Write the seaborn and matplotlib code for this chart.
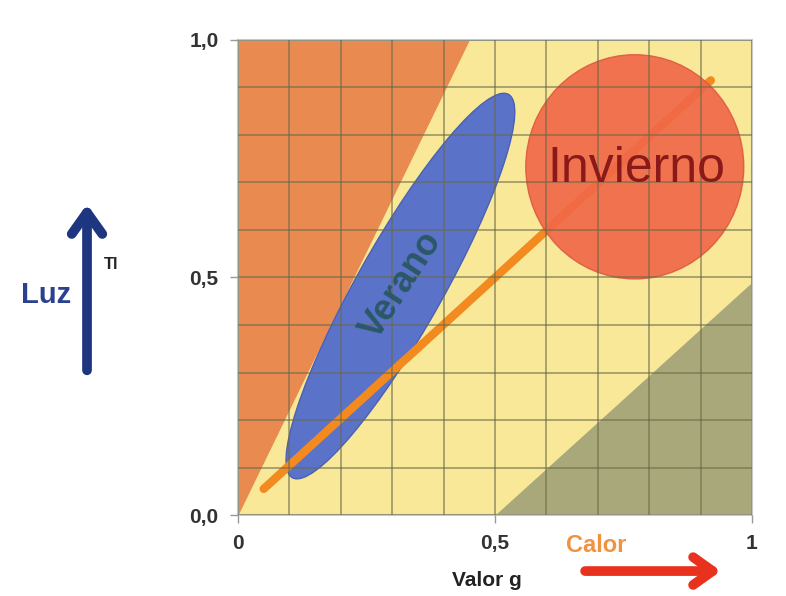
import numpy as np
import matplotlib
matplotlib.use("Agg")
import matplotlib.pyplot as plt
from matplotlib.patches import Ellipse, FancyArrowPatch
import seaborn as sns

# --- data ---
tick_vals = [0, 0.5, 1]
x_tick_labels = ['0', '0,5', '1']
y_tick_labels = ['0,0', '0,5', '1,0']
grid_vals = np.arange(0, 1.01, 0.1)

# zona de luz (naranja, arriba a la izquierda)
zona_luz_y = [0, 1]
zona_luz_x = [0, 0.45]
# zona de calor (gris, abajo a la derecha)
zona_calor_x = [0.5, 1]
zona_calor_y = [0, 0.49]

# linea de tendencia
linea_g = [0.05, 0.92]
linea_tl = [0.055, 0.915]

# elipse Verano
verano_centro = (0.316, 0.482)
verano_largo = 0.91
verano_ancho = 0.17
verano_angulo = 62.6

# circulo Invierno
invierno_centro = (0.772, 0.733)
invierno_ancho = 0.424
invierno_alto = 0.472

# colores
c_fondo = '#f8e898'
c_luz = '#e98a50'
c_calor = '#a9a87a'
c_verano = '#5a72c8'
c_invierno = '#f06848'
c_linea = '#f28a20'

sns.set_theme(style="white")
plt.rcParams['font.family'] = ['Liberation Sans', 'DejaVu Sans']

fig = plt.figure(figsize=(7.86, 5.96), dpi=100)
ax = fig.add_axes([0.3028, 0.1359, 0.6539, 0.797])
ax.set_facecolor(c_fondo)

# regiones
ax.fill_betweenx(zona_luz_y, 0, zona_luz_x, color=c_luz, lw=0, zorder=1)
ax.fill_between(zona_calor_x, 0, zona_calor_y, color=c_calor, lw=0, zorder=1)

# Verano
ax.add_patch(Ellipse(verano_centro, verano_largo, verano_ancho, angle=verano_angulo,
                     facecolor=c_verano, edgecolor='#4a60b4', lw=1, zorder=1.5))

# linea
sns.lineplot(x=linea_g, y=linea_tl, ax=ax, color=c_linea, linewidth=6,
             solid_capstyle='round', legend=False, zorder=2)

# Invierno
ax.add_patch(Ellipse(invierno_centro, invierno_ancho, invierno_alto,
                     facecolor=c_invierno, edgecolor='#e05a40', lw=1, alpha=0.92, zorder=2.2))

ax.text(0.318, 0.484, 'Verano', rotation=57, fontsize=26, fontweight='bold',
        color='#2a5868', ha='center', va='center', rotation_mode='anchor', zorder=3)
ax.text(0.776, 0.728, 'Invierno', fontsize=36, color='#8a1a1a',
        ha='center', va='center', zorder=3)

# ejes y rejilla
ax.set_xlim(0, 1)
ax.set_ylim(0, 1)
ax.set_xticks(tick_vals)
ax.set_xticklabels(x_tick_labels)
ax.set_yticks(tick_vals)
ax.set_yticklabels(y_tick_labels)
ax.set_xticks(grid_vals, minor=True)
ax.set_yticks(grid_vals, minor=True)
ax.set_axisbelow(False)
ax.grid(True, which='both', color='#6a6a4a', alpha=0.6, lw=1.3)
ax.tick_params(which='major', direction='out', length=6, width=1, color='#999999',
               labelsize=15, labelcolor='#333333', pad=8, bottom=True, left=True)
ax.tick_params(which='minor', length=0)
for lab in ax.get_xticklabels() + ax.get_yticklabels():
    lab.set_fontweight('bold')
for s in ax.spines.values():
    s.set_color('#c8c8c8')
    s.set_linewidth(1.5)

# etiquetas
ax.text(0.484, -0.137, 'Valor g', transform=ax.transAxes, fontsize=15,
        fontweight='bold', color='#222222', ha='center', va='center')
ax.text(0.696, -0.065, 'Calor', transform=ax.transAxes, fontsize=17,
        fontweight='bold', color='#f0923e', ha='center', va='center')
ax.annotate('', xy=(0.945, -0.118), xytext=(0.67, -0.118), xycoords='axes fraction',
            arrowprops=dict(arrowstyle='->,head_length=0.7,head_width=0.5', color='#e8321e',
                            lw=7, mutation_scale=20), annotation_clip=False)

fig.text(0.058, 0.505, 'Luz', fontsize=21, fontweight='bold', color='#2b4190',
         ha='center', va='center')
fig.text(0.141, 0.557, 'Tl', fontsize=12, fontweight='bold', color='#222222',
         ha='center', va='center')
fig.patches.append(FancyArrowPatch(
    (0.1107, 0.374), (0.1107, 0.662), transform=fig.transFigure, figure=fig,
    arrowstyle='->,head_length=0.7,head_width=0.5', color='#1e3680', lw=7,
    mutation_scale=22))

fig.savefig('out.png', dpi=100)
